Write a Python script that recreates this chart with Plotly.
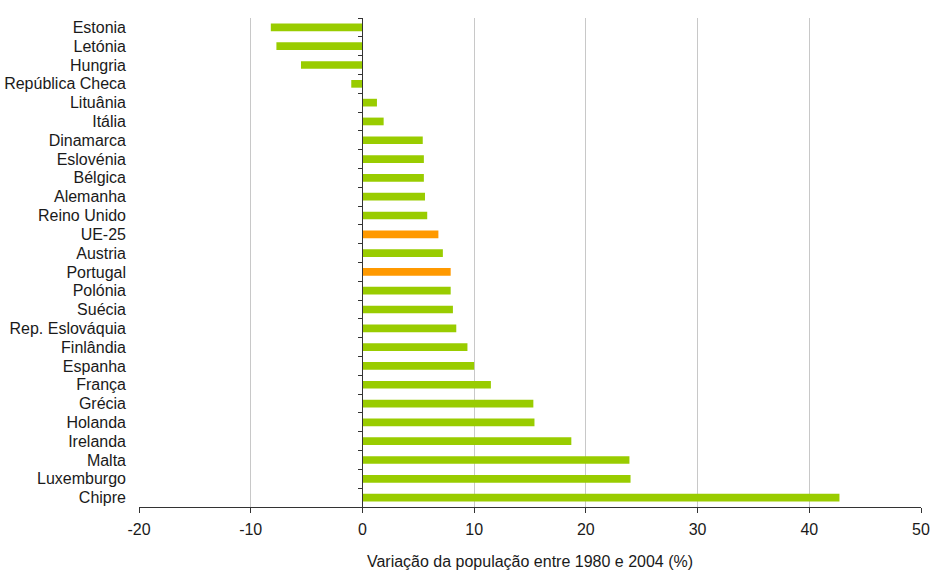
import plotly.graph_objects as go

# Population change 1980-2004 (%), countries listed top to bottom
countries = [
    "Estonia", "Letónia", "Hungria", "República Checa", "Lituânia", "Itália",
    "Dinamarca", "Eslovénia", "Bélgica", "Alemanha", "Reino Unido", "UE-25",
    "Austria", "Portugal", "Polónia", "Suécia", "Rep. Eslováquia", "Finlândia",
    "Espanha", "França", "Grécia", "Holanda", "Irelanda", "Malta",
    "Luxemburgo", "Chipre",
]
values = [
    -8.2, -7.7, -5.5, -1.0, 1.3, 1.9,
    5.4, 5.5, 5.5, 5.6, 5.8, 6.8,
    7.2, 7.9, 7.9, 8.1, 8.4, 9.4,
    10.0, 11.5, 15.3, 15.4, 18.7, 23.9,
    24.0, 42.7,
]
highlighted = ["UE-25", "Portugal"]

x_ticks = [-20, -10, 0, 10, 20, 30, 40, 50]
x_tick_labels = ["-20", "-10", "0", "10", "20", "30", "40", "50"]
x_title = "Variação da população entre 1980 e 2004 (%)"

GREEN = "#99cc00"
ORANGE = "#ff9900"
AXIS = "#333333"
GRID = "#c8c8c8"
TEXT = "#1a1a1a"
FONT = "Liberation Sans, Arial, sans-serif"

bar_colors = [ORANGE if c in highlighted else GREEN for c in countries]
cat_range = [len(countries) - 0.5, -0.5]

fig = go.Figure()
fig.add_bar(
    y=countries, x=values, orientation="h",
    marker=dict(color=bar_colors, line=dict(width=0)),
    width=0.41, showlegend=False,
)
# invisible companion trace so the category axis at x=0 carries its ticks
fig.add_scatter(
    y=countries, x=[0] * len(countries), yaxis="y2", mode="markers",
    marker=dict(opacity=0), hoverinfo="skip", showlegend=False,
)

fig.update_layout(
    template="none",
    width=933, height=570,
    margin=dict(l=139, r=12, t=18, b=63, pad=0),
    paper_bgcolor="white", plot_bgcolor="white",
    font=dict(family=FONT, size=16, color=TEXT),
    xaxis=dict(
        range=[x_ticks[0], x_ticks[-1]], tickmode="array",
        tickvals=x_ticks, ticktext=x_tick_labels,
        showgrid=True, gridcolor=GRID, gridwidth=1,
        zeroline=True, zerolinecolor=AXIS, zerolinewidth=1,
        showline=True, linecolor=AXIS, linewidth=1,
        ticks="outside", ticklen=5, tickcolor=AXIS, ticklabelstandoff=3,
        tickfont=dict(size=16), automargin=False,
        title=dict(text=x_title, font=dict(size=16), standoff=20),
    ),
    yaxis=dict(
        type="category", categoryorder="array", categoryarray=countries,
        tickmode="array", tickvals=countries, ticktext=countries,
        range=cat_range, showgrid=False, zeroline=False, showline=False,
        ticks="", ticklabelstandoff=12, tickfont=dict(size=16),
        automargin=False,
    ),
    yaxis2=dict(
        type="category", categoryorder="array", categoryarray=countries,
        tickmode="array", tickvals=countries,
        range=cat_range, overlaying="y", anchor="free",
        position=(0 - x_ticks[0]) / (x_ticks[-1] - x_ticks[0]), side="left",
        showgrid=False, zeroline=False, showline=True, linecolor=AXIS,
        linewidth=1, ticks="outside", ticklen=4, tickcolor=AXIS,
        tickson="boundaries", showticklabels=False, automargin=False,
    ),
)

fig.write_html("out.html")
